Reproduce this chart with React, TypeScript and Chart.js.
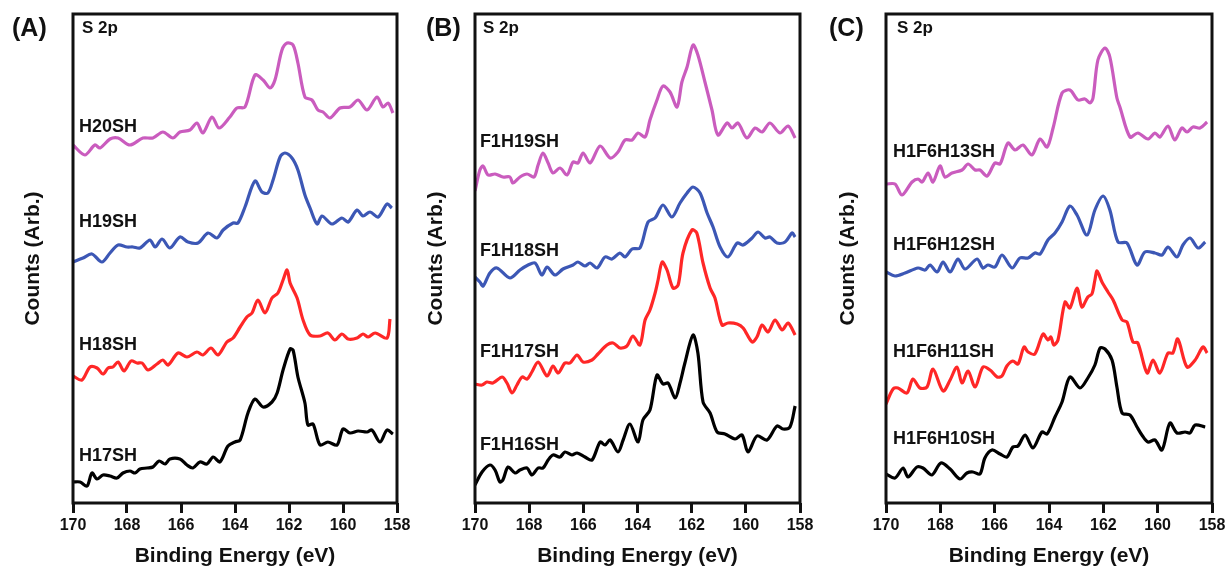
import React, { useEffect, useRef } from "react";
import { Chart, registerables } from "chart.js";

Chart.register(...registerables);

const FONT = '"Liberation Sans", Arial, Helvetica, sans-serif';
const INK = "#111111";
const MAGENTA = "#CA5CBE";
const BLUE = "#3C57B5";
const RED = "#FF2727";
const BLACK = "#000000";

const xTickValues = [170, 168, 166, 164, 162, 160, 158];

// ---------- Panel A ----------
const h20shE = [170.00,169.56,169.19,169.00,168.63,168.33,167.89,167.41,167.04,166.67,166.30,166.04,165.67,165.41,165.19,164.85,164.59,164.19,163.93,163.63,163.26,162.96,162.70,162.52,162.26,162.07,161.85,161.67,161.41,161.15,160.93,160.74,160.48,160.11,159.74,159.44,159.11,158.74,158.52,158.33,158.15];
const h20shC = [358,348,358,355,364,365,358,365,365,371,365,371,373,380,370,386,375,386,395,396,428,423,415,423,453,460,458,440,406,403,393,391,385,395,396,403,393,406,396,400,390];

const h19shE = [170.00,169.63,169.30,168.93,168.63,168.33,168.00,167.78,167.52,167.15,166.96,166.70,166.41,166.04,165.74,165.37,165.00,164.67,164.44,164.07,163.89,163.63,163.26,163.00,162.78,162.59,162.33,162.15,161.89,161.67,161.41,161.22,160.96,160.78,160.41,160.04,159.81,159.48,159.26,159.00,158.70,158.37,158.19];
const h19shC = [241,245,249,241,250,258,256,256,255,263,256,264,255,266,261,260,270,265,273,280,280,296,322,311,310,323,346,350,345,333,308,295,279,287,279,285,281,293,287,291,286,299,295];

const h18shE = [170.00,169.67,169.37,169.11,168.89,168.70,168.52,168.33,168.11,167.85,167.63,167.44,167.22,166.89,166.67,166.48,166.11,165.78,165.41,165.19,164.89,164.63,164.30,164.07,163.81,163.56,163.37,163.15,162.89,162.63,162.41,162.22,162.07,161.96,161.70,161.48,161.22,160.85,160.56,160.30,160.04,159.81,159.48,159.26,159.07,158.81,158.37,158.26];
const h18shC = [127,123,136,135,129,135,136,141,132,142,140,140,133,139,143,138,150,146,151,148,155,148,161,165,176,186,190,203,190,205,210,223,233,220,205,183,168,167,170,163,169,164,165,169,166,170,165,184];

const h17shE = [170.00,169.74,169.48,169.30,169.11,168.89,168.63,168.37,168.15,167.89,167.70,167.52,167.26,167.04,166.81,166.59,166.41,166.04,165.78,165.56,165.30,165.04,164.81,164.56,164.26,164.00,163.81,163.52,163.26,162.96,162.63,162.44,162.22,161.96,161.85,161.67,161.41,161.30,161.11,160.85,160.56,160.22,160.00,159.74,159.44,159.11,158.93,158.63,158.37,158.15];
const h17shC = [21,21,17,30,24,28,27,25,30,32,30,34,35,36,42,39,44,44,38,35,41,39,46,41,57,61,63,90,104,96,101,110,133,154,153,126,100,78,79,58,61,58,74,70,72,71,73,61,73,69];

// ---------- Panel B ----------
const f1h19shE = [170.00,169.82,169.70,169.52,169.26,168.97,168.71,168.60,168.34,168.08,167.82,167.67,167.49,167.30,167.12,166.86,166.60,166.38,166.20,166.01,165.75,165.38,165.01,164.72,164.46,164.20,163.98,163.72,163.54,163.28,163.06,162.80,162.54,162.36,162.17,161.95,161.77,161.51,161.25,161.03,160.69,160.51,160.29,159.96,159.66,159.40,159.11,158.74,158.44,158.18];
const f1h19shC = [312,333,337,328,329,326,326,320,326,329,326,338,350,340,330,335,328,341,340,350,340,357,345,351,363,363,370,366,383,403,417,411,396,421,436,458,448,421,393,368,380,375,380,365,375,371,380,370,377,365];

const f1h18shE = [170.00,169.82,169.70,169.45,169.19,168.71,168.34,168.04,167.78,167.53,167.34,167.05,166.75,166.38,166.20,165.94,165.75,165.49,165.20,164.94,164.65,164.46,164.20,163.91,163.61,163.35,163.06,162.73,162.43,162.17,161.95,161.69,161.43,161.21,160.95,160.66,160.32,160.10,159.77,159.55,159.29,159.11,158.85,158.55,158.29,158.18];
const f1h18shC = [226,221,217,230,235,225,233,238,240,228,236,228,234,238,241,237,240,235,246,244,250,246,254,255,281,285,298,286,300,310,316,310,290,276,256,246,260,258,265,271,265,266,260,261,270,266];

const f1h17shE = [170.00,169.74,169.56,169.34,169.00,168.82,168.63,168.45,168.26,168.08,167.90,167.67,167.34,167.12,166.93,166.68,166.49,166.23,166.01,165.68,165.46,165.13,164.90,164.65,164.39,164.17,163.91,163.72,163.54,163.35,163.24,163.09,162.91,162.69,162.50,162.32,161.99,161.81,161.58,161.32,161.14,160.88,160.66,160.32,160.10,159.77,159.59,159.40,159.18,158.92,158.66,158.44,158.18];
const f1h17shC = [119,118,121,120,126,120,110,118,126,124,131,141,127,137,130,140,140,148,141,143,149,158,160,155,157,167,158,183,193,210,223,241,233,215,218,250,273,270,240,215,205,178,180,179,175,161,166,178,171,183,173,180,168];

const f1h16shE = [170.00,169.74,169.45,169.26,169.08,168.97,168.78,168.52,168.34,168.08,167.90,167.67,167.49,167.30,167.12,166.86,166.68,166.42,166.23,165.94,165.68,165.38,165.20,165.01,164.72,164.53,164.28,163.98,163.80,163.54,163.28,163.06,162.87,162.61,162.43,162.25,161.95,161.77,161.58,161.32,161.06,160.77,160.40,160.14,159.92,159.59,159.22,158.85,158.63,158.37,158.18];
const f1h16shC = [18,31,38,33,21,23,36,30,33,35,28,35,35,43,48,46,51,48,50,46,43,61,58,63,51,63,79,61,83,93,128,119,120,105,120,140,168,150,101,90,71,69,64,68,51,67,63,77,74,76,97];

// ---------- Panel C ----------
const h1f6h13shE = [170.00,169.67,169.41,169.04,168.82,168.67,168.45,168.27,168.01,167.83,167.57,167.20,166.98,166.72,166.54,166.28,165.99,165.80,165.51,165.25,164.96,164.63,164.33,164.07,163.85,163.52,163.23,162.93,162.68,162.49,162.38,162.20,161.94,161.76,161.50,161.39,161.02,160.73,160.36,160.10,159.92,159.62,159.37,159.11,158.92,158.70,158.44,158.18];
const h1f6h13shC = [319,319,308,321,324,321,330,321,337,326,330,333,339,333,333,327,340,339,360,353,358,348,364,356,375,410,413,403,404,400,405,443,455,446,405,396,366,370,364,370,366,377,363,375,371,376,375,381];

const h1f6h12shE = [170.00,169.67,169.30,168.82,168.56,168.38,168.12,167.90,167.64,167.35,167.09,166.65,166.43,166.25,165.99,165.73,165.36,165.07,164.77,164.52,164.33,164.04,163.78,163.52,163.23,162.97,162.60,162.31,162.01,161.76,161.46,161.13,160.76,160.47,160.10,159.84,159.62,159.29,159.07,158.81,158.51,158.25];
const h1f6h12shC = [231,227,230,235,233,238,231,241,231,244,234,244,235,238,236,248,235,245,245,250,249,263,270,281,297,288,268,293,307,293,261,260,238,251,250,248,256,246,258,265,255,261];

const h1f6h11shE = [170.00,169.74,169.56,169.23,169.01,168.75,168.49,168.27,167.90,167.64,167.39,167.20,166.98,166.72,166.43,166.17,165.91,165.73,165.55,165.33,165.14,164.92,164.77,164.52,164.22,164.04,163.93,163.82,163.67,163.41,163.23,162.97,162.79,162.57,162.42,162.31,162.23,162.05,161.83,161.64,161.31,161.13,160.91,160.73,160.39,160.17,159.92,159.62,159.44,159.26,158.92,158.62,158.33,158.18];
const h1f6h11shC = [99,114,115,110,124,115,116,134,112,123,136,120,132,116,136,133,126,127,137,142,139,156,151,149,169,163,166,158,163,201,195,215,196,206,209,223,232,221,211,203,183,181,161,160,130,143,130,150,150,164,136,143,156,150];

const h1f6h10shE = [170.00,169.67,169.37,169.19,168.86,168.64,168.31,167.98,167.64,167.28,167.02,166.80,166.54,166.36,166.10,165.80,165.55,165.33,165.14,164.88,164.59,164.26,164.07,163.78,163.52,163.23,162.86,162.57,162.31,162.12,161.94,161.68,161.50,161.31,161.02,160.76,160.58,160.36,160.10,159.84,159.55,159.29,158.99,158.81,158.62,158.25];
const h1f6h10shC = [29,25,35,26,36,35,28,40,34,24,30,31,29,45,53,49,46,56,57,68,55,71,69,86,101,126,115,125,138,155,154,143,116,90,88,76,68,61,63,53,80,70,71,70,78,76];

type Series = { name: string; e: number[]; c: number[]; color: string; at: [number, number] };
type Panel = {
  tag: string; left: number; width: number; yAxisWidth: number; padRight: number;
  yTitlePad: number; tagX: number; s2pDx: number; series: Series[];
};

const panels: Panel[] = [
  {
    tag: "(A)", left: 0, width: 410, yAxisWidth: 73, padRight: 13, yTitlePad: 21, tagX: 12, s2pDx: 9,
    series: [
      { name: "H20SH", e: h20shE, c: h20shC, color: MAGENTA, at: [169.78, 376] },
      { name: "H19SH", e: h19shE, c: h19shC, color: BLUE, at: [169.78, 281] },
      { name: "H18SH", e: h18shE, c: h18shC, color: RED, at: [169.78, 158] },
      { name: "H17SH", e: h17shE, c: h17shC, color: BLACK, at: [169.78, 47] },
    ],
  },
  {
    tag: "(B)", left: 410, width: 405, yAxisWidth: 65, padRight: 15, yTitlePad: 14, tagX: 16, s2pDx: 8,
    series: [
      { name: "F1H19SH", e: f1h19shE, c: f1h19shC, color: MAGENTA, at: [169.82, 361] },
      { name: "F1H18SH", e: f1h18shE, c: f1h18shC, color: BLUE, at: [169.82, 252] },
      { name: "F1H17SH", e: f1h17shE, c: f1h17shC, color: RED, at: [169.82, 151] },
      { name: "F1H16SH", e: f1h16shE, c: f1h16shC, color: BLACK, at: [169.82, 58] },
    ],
  },
  {
    tag: "(C)", left: 815, width: 410, yAxisWidth: 71, padRight: 13, yTitlePad: 21, tagX: 14, s2pDx: 11,
    series: [
      { name: "H1F6H13SH", e: h1f6h13shE, c: h1f6h13shC, color: MAGENTA, at: [169.74, 351] },
      { name: "H1F6H12SH", e: h1f6h12shE, c: h1f6h12shC, color: BLUE, at: [169.74, 258] },
      { name: "H1F6H11SH", e: h1f6h11shE, c: h1f6h11shC, color: RED, at: [169.74, 151] },
      { name: "H1F6H10SH", e: h1f6h10shE, c: h1f6h10shC, color: BLACK, at: [169.74, 64] },
    ],
  },
];

const annotatePlugin = {
  id: "annotate",
  afterDraw(chart: any, _args: any, opts: any) {
    const { ctx, chartArea, scales } = chart;
    ctx.save();
    ctx.strokeStyle = INK;
    ctx.lineWidth = 3;
    ctx.strokeRect(chartArea.left, chartArea.top, chartArea.right - chartArea.left, chartArea.bottom - chartArea.top);
    ctx.fillStyle = INK;
    ctx.textAlign = "left";
    ctx.textBaseline = "middle";
    ctx.font = `bold 25px ${FONT}`;
    ctx.fillText(opts.tag, opts.tagX, 29);
    ctx.font = `bold 17px ${FONT}`;
    ctx.fillText("S 2p", chartArea.left + opts.s2pDx, chartArea.top + 14);
    ctx.font = `bold 18px ${FONT}`;
    for (const s of opts.series as Series[]) {
      ctx.fillText(s.name, scales.x.getPixelForValue(s.at[0]), scales.y.getPixelForValue(s.at[1]));
    }
    ctx.restore();
  },
};

function PanelChart({ p }: { p: Panel }) {
  const ref = useRef<HTMLCanvasElement | null>(null);
  useEffect(() => {
    if (!ref.current) return;
    const chart = new Chart(ref.current, {
      type: "line",
      data: {
        datasets: p.series.map((s) => ({
          label: s.name,
          data: s.e.map((x, i) => ({ x, y: s.c[i] })),
          borderColor: s.color,
          backgroundColor: s.color,
          borderWidth: 3.2,
          pointRadius: 0,
          tension: 0.3,
          fill: false,
        })),
      },
      options: {
        animation: false,
        responsive: false,
        events: [],
        layout: { padding: { top: 14, right: p.padRight, left: 0, bottom: 0 } },
        plugins: {
          legend: { display: false },
          tooltip: { enabled: false },
          annotate: { tag: p.tag, tagX: p.tagX, s2pDx: p.s2pDx, series: p.series },
        } as any,
        scales: {
          x: {
            type: "linear",
            min: 158,
            max: 170,
            reverse: true,
            afterFit: (s: any) => {
              s.height = 66;
              s.paddingLeft = 0;
              s.paddingRight = 0;
              s.paddingTop = 0;
              s.paddingBottom = 0;
            },
            afterBuildTicks: (s: any) => { s.ticks = xTickValues.map((v) => ({ value: v })); },
            ticks: { font: { family: FONT, size: 16, weight: "bold" }, color: INK, padding: 3, maxRotation: 0, autoSkip: false },
            grid: { display: true, drawOnChartArea: false, drawTicks: true, tickLength: 10, tickWidth: 3, tickColor: INK },
            border: { display: false },
            title: { display: true, text: "Binding Energy (eV)", font: { family: FONT, size: 21, weight: "bold" }, color: INK, padding: { top: 0, bottom: 0 } },
          },
          y: {
            type: "linear",
            min: 0,
            max: 489,
            afterFit: (s: any) => {
              s.width = p.yAxisWidth;
              s.paddingTop = 0;
              s.paddingBottom = 0;
            },
            ticks: { display: false },
            grid: { display: false },
            border: { display: false },
            title: { display: true, text: "Counts (Arb.)", font: { family: FONT, size: 21, weight: "bold" }, color: INK, padding: { top: p.yTitlePad, bottom: 0 } },
          },
        },
      } as any,
      plugins: [annotatePlugin],
    });
    return () => chart.destroy();
  }, [p]);
  return (
    <canvas
      ref={ref}
      width={p.width}
      height={569}
      style={{ position: "absolute", left: p.left, top: 0, width: p.width, height: 569, display: "block" }}
    />
  );
}

export default function App() {
  return (
    <div style={{ position: "absolute", left: 0, top: 0, width: 1225, height: 569, background: "#ffffff", overflow: "hidden" }}>
      {panels.map((p) => (
        <PanelChart key={p.tag} p={p} />
      ))}
    </div>
  );
}
